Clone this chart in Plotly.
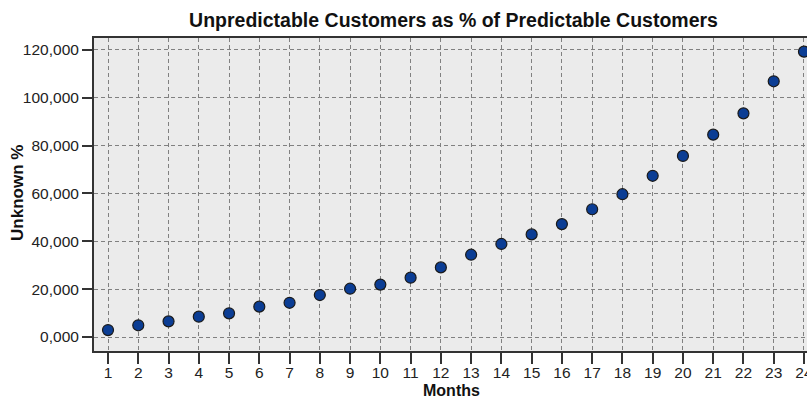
import plotly.graph_objects as go

months = list(range(1, 25))
unknown_pct = [2900, 4900, 6550, 8500, 9900, 12700, 14300, 17550, 20200, 21900,
               24800, 29100, 34400, 38900, 42900, 47200, 53400, 59700, 67400, 75700,
               84600, 93500, 106900, 119300]

y_tickvals = [0, 20000, 40000, 60000, 80000, 100000, 120000]
y_ticktext = ['0,000', '20,000', '40,000', '60,000', '80,000', '100,000', '120,000']

fig = go.Figure()
fig.add_trace(go.Scatter(
    x=months, y=unknown_pct, mode='markers',
    marker=dict(size=11, color='#0b3d94', line=dict(color='#1a1a1a', width=1.2)),
    showlegend=False, cliponaxis=False))

axis_font = dict(family='Liberation Sans, Arial, sans-serif', size=15.5, color='#222')

fig.update_layout(
    width=807, height=400,
    margin=dict(l=94, r=0, t=38, b=49),
    paper_bgcolor='white', plot_bgcolor='#ebebeb',
    font=dict(family='Liberation Sans, Arial, sans-serif', color='#111'),
    title=dict(text='<b>Unpredictable Customers as % of Predictable Customers</b>',
               x=0.562, xanchor='center', y=0.95, yanchor='middle',
               font=dict(size=19.5, color='#111')),
)

fig.update_xaxes(
    range=[0.537, 24.1], tickvals=months, tickfont=axis_font, automargin=False,
    showline=True, linecolor='#333', linewidth=2, mirror=True,
    ticks='outside', ticklen=11, tickcolor='#333', tickwidth=2,
    ticklabelstandoff=-5, ticklabeloverflow='allow',
    showgrid=True, gridcolor='#808080', griddash='4px,3px', gridwidth=1,
    zeroline=False)

fig.update_yaxes(
    range=[-5850, 125000], tickvals=y_tickvals, ticktext=y_ticktext, tickfont=axis_font,
    automargin=False,
    showline=True, linecolor='#333', linewidth=2, mirror=True,
    ticks='outside', ticklen=10, tickcolor='#333', tickwidth=2,
    showgrid=True, gridcolor='#808080', griddash='4px,3px', gridwidth=1,
    zeroline=False)

# axis titles
fig.add_annotation(text='<b>Months</b>', xref='paper', yref='paper', x=0.502, y=-0.126,
                   xanchor='center', yanchor='middle', showarrow=False,
                   font=dict(size=16, color='#111'))
fig.add_annotation(text='<b>Unknown %</b>', xref='paper', yref='paper', x=-0.1066, y=0.505,
                   xanchor='center', yanchor='middle', textangle=-90, showarrow=False,
                   font=dict(size=17, color='#111'))

fig.write_html('out.html', config={'displayModeBar': False},
               post_script="document.body.style.margin='0';")
